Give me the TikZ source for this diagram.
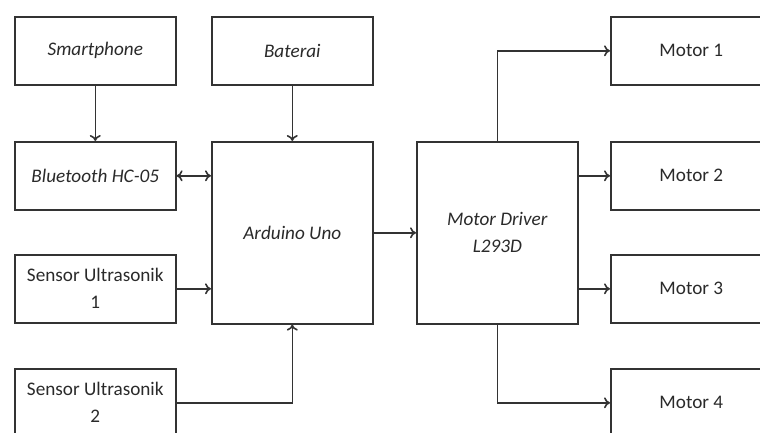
\documentclass[tikz,border=0pt]{standalone}
\usepackage{fontspec}
\setmainfont{Carlito}
\usetikzlibrary{arrows.meta}
\definecolor{ln}{HTML}{333333}
\definecolor{tx}{HTML}{2A2A2A}
\tikzset{
  blk/.style={draw=ln, line width=1.6pt, minimum width=161pt, minimum height=68pt, inner sep=0pt, text=tx, font=\fontsize{19.2}{27}\selectfont, align=center},
  itl/.style={font=\fontsize{19.2}{27}\selectfont\itshape},
  conn/.style={draw=ln, line width=1.6pt, -{To[length=6pt,width=11pt,line width=1.6pt]}},
  bconn/.style={draw=ln, line width=1.6pt, {To[length=6pt,width=11pt,line width=1.6pt]}-{To[length=6pt,width=11pt,line width=1.6pt]}}
}
\begin{document}
\begin{tikzpicture}[x=1pt,y=-1pt]
\useasboundingbox (0,0) rectangle (760,432);
\clip (0,0) rectangle (760,432);
\node[blk,itl,anchor=north west] (smart) at (14,16) {Smartphone};
\node[blk,itl,anchor=north west] (bat) at (211,16) {Baterai};
\node[blk,itl,anchor=north west] (bt) at (14,141) {Bluetooth HC-05};
\node[blk,itl,anchor=north west, minimum height=182pt] (ard) at (211,141) {Arduino Uno};
\node[blk,anchor=north west] (s1) at (14,254) {Sensor Ultrasonik\\1};
\node[blk,anchor=north west] (s2) at (14,368) {Sensor Ultrasonik\\2};
\node[blk,itl,anchor=north west, minimum height=182pt] (md) at (416,141) {Motor Driver\\L293D};
\node[blk,anchor=north west] (m1) at (610,16) {Motor 1};
\node[blk,anchor=north west] (m2) at (610,141) {Motor 2};
\node[blk,anchor=north west] (m3) at (610,254) {Motor 3};
\node[blk,anchor=north west] (m4) at (610,368) {Motor 4};
\draw[conn] (smart.south) -- (bt.north);
\draw[conn] (bat.south) -- (ard.north);
\draw[bconn] (bt.east) -- (bt.east -| ard.west);
\draw[conn] (s1.east) -- (s1.east -| ard.west);
\draw[conn] (s2.east) -- (s2.east -| ard.south) -- (ard.south);
\draw[conn] (ard.east |- md.west) -- (md.west);
\draw[conn] (md.north) -- (md.north |- m1.west) -- (m1.west);
\draw[conn] (md.east |- m2.west) -- (m2.west);
\draw[conn] (md.east |- m3.west) -- (m3.west);
\draw[conn] (md.south) -- (md.south |- m4.west) -- (m4.west);
\end{tikzpicture}
\end{document}
